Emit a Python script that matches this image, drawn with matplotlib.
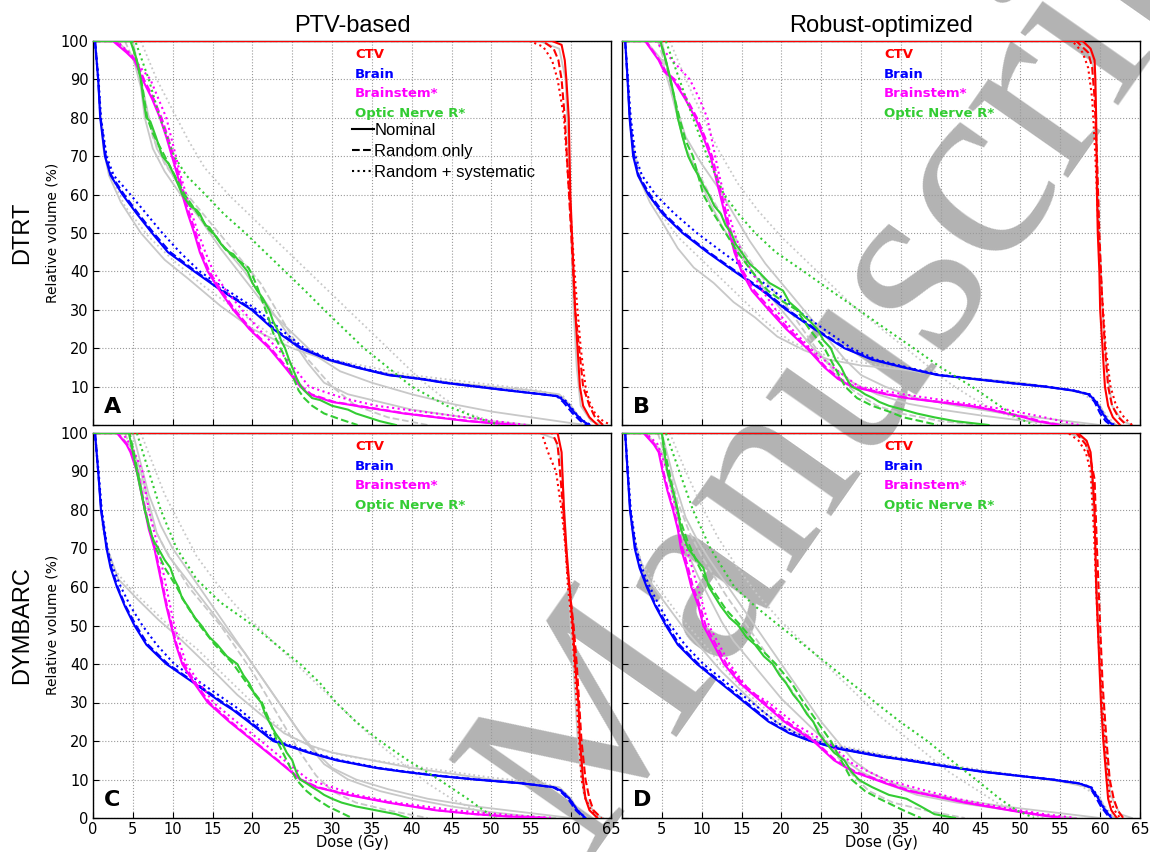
import matplotlib
matplotlib.use('Agg')
import matplotlib.pyplot as plt
from matplotlib.lines import Line2D

plt.rcParams['font.family'] = ['DejaVu Sans']

# ---- panel A : PTV-based, DTRT ----
A_ctv_nom = [(0,100),(57.6,100),(58.8,99),(59.2,95),(59.4,90),(59.7,80),(59.8,70),(59.9,60),(60.1,50),(60.3,40),(60.5,30),(60.8,20),(61.1,10),(61.5,5),(62.3,2),(63.3,0)]
A_ctv_rnd = [(0,100),(56.4,100),(57.8,98),(58.4,95),(58.8,90),(59.2,80),(60,50),(60.5,30),(61,20),(61.5,10),(62.3,5),(63,2),(64,0)]
A_ctv_sys = [(0,100),(54.8,100),(56.5,98.5),(57.6,95),(58.3,90),(59.1,80),(59.6,65),(60.1,50),(60.6,35),(61.2,20),(61.8,10),(62.3,6),(63,3),(64,1),(65,0)]
A_brain_nom = [(0.25,100),(0.65,90),(0.9,80),(1.5,70),(2.2,65),(3.7,60),(5.5,55),(7.4,50),(9.4,45),(12.7,40),(16.1,35),(19.9,30),(22.6,25),(26,20),(29.5,17),(33,15),(37,13),(41,12),(44,11),(48,10),(52,9),(56.3,8),(58.3,7.5),(59.3,6),(60.5,3),(61.5,1),(62.3,0)]
A_brain_rnd = [(0.25,100),(0.65,90),(0.95,80),(1.6,70),(2.3,65),(3.9,60),(5.7,55),(7.6,50),(9.7,45),(12.9,40),(16.3,35),(20.1,30),(22.8,25),(26.2,20),(29.7,17),(33.2,15),(37.2,13),(41.2,12),(44.2,11),(48.2,10),(52.2,9),(56.3,8),(58.2,7.5),(59,6),(60.2,3),(61.2,1),(62,0)]
A_brain_sys = [(0.25,100),(0.7,90),(1,80),(1.7,70),(2.6,65),(4.7,60),(6.7,55),(8.7,50),(10.9,45),(13.4,40),(16.9,35),(20.6,30),(23.5,25),(26.5,20),(30,17),(33.5,15),(37.5,13),(41.5,12),(44.5,11),(48.5,10),(52.5,9),(56.5,8),(58.5,7.5),(59.5,6),(60.6,3),(61.6,1),(62.5,0)]
A_bs_nom = [(0,100),(2.5,100),(4.2,97),(5.2,95),(6.2,90),(7.4,85),(8.4,80),(9.2,75),(9.9,70),(10.6,65),(11.2,60),(11.9,55),(12.7,50),(13.4,45),(14.4,40),(15.9,35),(17.6,30),(19.6,25),(22.1,20),(24.1,15),(26,10),(27.1,8),(30,6),(33,5),(36,4),(39,3),(43,2),(47,1),(50,0.5),(53,0)]
A_bs_rnd = [(0,100),(2.7,100),(4.4,97),(5.4,95),(6.4,90),(7.6,85),(8.6,80),(9.4,75),(10.1,70),(10.8,65),(11.4,60),(12.1,55),(12.9,50),(13.6,45),(14.6,40),(16.1,35),(17.8,30),(19.8,25),(22.3,20),(24.3,15),(26.2,10),(27.4,8),(30.3,6),(33.3,5),(36.3,4),(39.3,3),(43.3,2),(47.5,1),(53,0)]
A_bs_sys = [(0,100),(3,100),(5,96),(6,93),(7.2,90),(8.2,85),(9.2,80),(9.8,75),(10.4,70),(11,65),(11.7,60),(12.4,55),(13.2,50),(14.1,45),(15.1,40),(16.7,35),(18.7,30),(20.8,25),(23.1,20),(25.2,15),(27.1,10),(31.4,7),(35.6,5),(43,3),(50.5,1),(54.4,0)]
A_on_nom = [(0,100),(4.7,100),(5.5,95),(6,90),(6.3,85),(6.7,80),(7.2,79),(7.9,75),(8.7,70),(9.5,68),(10.2,65),(11.2,60),(12.2,57),(13,56),(13.4,55),(14.1,52),(14.6,51.5),(15.1,50),(16.1,47),(17.1,45),(17.6,44.5),(18.6,42),(19.4,40),(20,37),(20.6,35),(21.3,33),(22.1,30),(22.6,27),(23.1,25),(23.6,22),(24.1,20),(24.6,17),(25,15),(25.6,12),(26.1,10),(26.5,9),(27.5,7),(28.5,6.5),(30,5),(32,4),(33,3),(34.5,2),(36,1),(37,0.5),(38,0)]
A_on_rnd = [(0,100),(4.8,100),(5.6,94),(6.2,88),(6.8,80),(7.5,76),(8.5,72),(9.5,68),(10.5,64),(11.5,60),(12.5,57),(13.5,54),(14.5,51),(15.5,49),(16.5,46),(17.5,44),(18.5,42.5),(19.5,41),(20,39),(20.6,36),(21.3,32),(22,28),(22.6,24),(23.3,21),(24,18),(24.6,15),(25.2,12),(25.8,9),(26.5,7),(27.5,5),(29,3),(31,1.5),(33.2,0)]
A_on_sys = [(0,100),(5.3,100),(7,90),(8.4,80),(10.2,70),(11.7,65),(14.1,60),(16.4,55),(19.1,50),(21.6,45),(24.1,40),(26.6,35),(29,30),(31.5,25),(34,20),(37,15),(40,10),(44.4,5),(48,2),(51,0)]
A_gray_brain_a = [(0.3,100),(0.8,85),(1.3,72),(2,65),(3.5,58),(6,50),(9,43),(12,38),(16,31),(20,25),(25,20),(30,16.5),(35,14),(40,12.5),(45,11),(50,10),(55,9),(58.5,8),(60,5),(61,2),(62,0)]
A_gray_brain_b = [(0.3,100),(1,80),(2,66),(4,57),(7,49),(10,43),(14,36),(18,30),(22,24),(26,20),(30,17),(35,15),(40,13),(50,10.5),(56,9),(59,7.5),(60.5,3),(62,0)]
A_gray_oar_a = [(3,100),(5,96),(6,88),(6.5,80),(7.5,72),(9,66),(11,60),(13,55),(15,50),(17,45),(19,40),(21,34),(23,28),(25,22),(27,16),(29,11),(32,8),(36,6),(40,4),(45,2.5),(50,1),(55,0)]
A_gray_oar_b = [(4,100),(5.5,93),(6.5,85),(7.5,75),(9,68),(11,62),(13,57),(15,52),(17,47),(19,42),(21,37),(23,30),(25,23),(27,17),(30,10),(33,5),(37,2),(42,0)]
A_gray_oar_c = [(6,100),(8,90),(10,82),(12,74),(14,67),(17,60),(20,54),(23,48),(26,42),(29,36),(32,30),(35,24),(38,18),(41,12),(44,7),(47,3),(50,1),(53,0)]
A_gray_oar_d = [(5,100),(6,90),(7,80),(8,72),(10,65),(13,55),(16,46),(19,38),(22,30),(25,24),(28,18),(31,14),(35,11),(40,8),(45,5.5),(50,3.5),(55,2),(60,0.5),(62,0)]
A_gray_ctv = [(56,100),(58.5,98),(59.3,90),(59.7,70),(60,50),(60.3,30),(60.7,15),(61.2,5),(62.5,1),(64,0)]

# ---- panel B : Robust-optimized, DTRT ----
B_ctv_nom = [(0,100),(57.8,100),(58.8,98),(59.3,95),(59.4,90),(59.5,80),(59.6,60),(59.7,50),(59.9,40),(60,30),(60.3,20),(60.6,10),(61,5),(61.6,2),(62.5,0)]
B_ctv_rnd = [(0,100),(57,100),(58.5,97),(59,93),(59.3,85),(59.6,70),(59.9,50),(60.2,35),(60.6,20),(61,10),(61.5,5),(62.3,2),(63.3,0)]
B_ctv_sys = [(0,100),(56.5,100),(57.8,97),(58.5,93),(59,85),(59.4,70),(59.8,50),(60.2,35),(60.7,20),(61.3,10),(62,5),(63,2),(64,0)]
B_brain_nom = [(0.4,100),(0.7,90),(0.95,80),(1.4,70),(2,65),(3.3,60),(5.1,55),(7.6,50),(10.7,45),(14.1,40),(17.6,35),(20.6,30),(24.1,25),(27.9,20),(31.4,17),(35.3,15),(39.6,13),(44,12),(48.3,11),(53,10),(56.5,9),(58.6,8),(59.5,6),(60.3,3),(61,1),(61.6,0)]
B_brain_rnd = [(0.4,100),(0.7,90),(1,80),(1.5,70),(2.1,65),(3.5,60),(5.3,55),(7.8,50),(10.9,45),(14.3,40),(17.8,35),(20.8,30),(24.3,25),(28.1,20),(31.6,17),(35.5,15),(39.8,13),(44.2,12),(48.5,11),(53.2,10),(56.6,9),(58.5,8),(59.3,6),(60,3),(60.7,1),(61.3,0)]
B_brain_sys = [(0.4,100),(0.75,90),(1.1,80),(1.7,70),(2.5,65),(4.2,60),(6.6,55),(9.4,50),(12.6,45),(15.9,40),(19,35),(21.9,30),(25.3,25),(28.8,20),(32,17),(35.8,15),(40,13),(44.4,12),(48.7,11),(53.3,10),(56.7,9),(58.7,8),(59.6,6),(60.4,3),(61.1,1),(61.8,0)]
B_bs_nom = [(0,100),(2.9,100),(4.6,95),(5.3,92),(6.4,90),(7.9,85),(9.2,80),(10.2,75),(11.1,70),(11.7,65),(12.3,60),(12.9,55),(13.5,50),(14.1,45),(15,40),(16.3,35),(18.4,30),(20.6,25),(23.2,20),(25.4,15),(27.1,12),(28.8,10),(33.1,8),(35.7,7),(39.6,6),(43.5,5),(46.1,4),(48.3,3),(50.4,2),(52.1,1),(54.7,0)]
B_bs_rnd = [(0,100),(3,100),(4.7,95),(5.5,92),(6.6,90),(8.1,85),(9.4,80),(10.4,75),(11.3,70),(11.9,65),(12.5,60),(13.1,55),(13.7,50),(14.3,45),(15.2,40),(16.6,35),(18.7,30),(20.9,25),(23.4,20),(25.6,15),(27.4,12),(29.2,10),(33.5,8),(36,7),(40,6),(43.8,5),(46.5,4),(48.6,3),(50.8,2),(52.5,1),(55,0)]
B_bs_sys = [(0,100),(4.2,100),(6.3,95),(8.5,90),(9.7,85),(10.7,80),(11.2,75),(11.7,70),(12.2,65),(12.8,60),(13.4,55),(14.1,50),(15,45),(16.3,40),(17.6,35),(19.3,30),(21.3,25),(23.6,20),(26.5,15),(29.7,10),(35.3,8),(41.8,6),(48.3,4),(53,2),(57.3,0)]
B_on_nom = [(0,100),(4.8,100),(5.5,95),(6.1,90),(6.6,85),(7,80),(7.6,75),(8.3,70),(9,67),(9.6,65),(10.3,62),(10.9,60),(11.6,57),(12.4,55),(13,52),(13.7,50),(14.3,47),(15,45),(16,42),(17.1,40),(18.5,37),(20.2,35),(21,32),(22.1,30),(23,28),(23.6,27),(24.5,25),(25.3,22),(26.2,20),(26.8,17),(27.5,15),(28.2,12),(28.8,10),(29.8,9),(30.5,8),(31.5,7),(32.3,6),(33.5,5),(35.3,4),(37,3),(39.2,2),(41.8,1),(46,0)]
B_on_rnd = [(0,100),(4.8,100),(5.6,94),(6.5,86),(7.2,80),(8,74),(8.9,70),(10.2,60),(11.5,55),(13,50),(14.5,45),(16.3,40),(18.3,35),(20.3,32),(21.9,30),(23.5,25),(25.4,20),(26.7,15),(28,10),(29.5,7),(31.4,5),(33.5,3.5),(35.3,2),(37.5,1),(39.6,0)]
B_on_sys = [(0,100),(5.5,100),(7.2,90),(8.9,80),(10.7,70),(12.8,60),(14.6,55),(16.7,50),(19.3,45),(22.8,40),(26.2,35),(29.7,30),(33.1,25),(36.6,20),(40,15),(43.9,10),(47.4,5),(49.5,2),(51.7,0)]
B_gray_brain_a = [(0.4,100),(1,78),(2,65),(3.5,58),(5,53),(7,46),(9,41),(11.5,37),(14,32),(16.7,28),(19.5,23),(22.8,19.5),(26,17),(30,15.5),(35,14.5),(40,13),(50,11),(55,9.5),(58.5,8),(60,5),(61,1),(62,0)]
B_gray_brain_b = [(0.4,100),(1.2,75),(2.5,63),(4.5,56),(7,49),(9.5,44),(12,39),(15,33),(18,27),(21,22),(24,19),(28,17),(34,15),(42,12.5),(50,10.5),(57,9),(59.5,6),(61,2),(62,0)]
B_gray_oar_a = [(3,100),(5,95),(6,88),(7,80),(8,72),(9.5,65),(11,58),(12.5,52),(14,47),(16,41),(18,35),(20,30),(22,25),(24,20),(26.5,15),(29,11),(32,8),(36,5.5),(40,4),(45,2.5),(50,1.2),(55,0.3),(58,0)]
B_gray_oar_b = [(4.5,100),(6,90),(7,80),(8,72),(9.5,66),(11,60),(13,53),(15,46),(17,40),(19,35),(21,30),(23,24),(25,18),(27,13),(29,9),(32,5),(35,3),(40,1),(45,0)]
B_gray_oar_c = [(6,100),(8,90),(10,81),(12,72),(14.5,63),(17,56),(20,49),(23,43),(26,37),(29,31),(32,26),(35,21),(38,16),(41,11),(44,7),(47,3.5),(50,1.5),(53,0)]
B_gray_oar_d = [(5,100),(6.5,85),(8,75),(10,68),(12,62),(14,55),(16,48),(18,42),(20,37),(22,32),(24,27),(26,22),(28,17),(30,13),(33,10),(37,7),(42,5),(48,3),(54,1.5),(58,0.5),(60,0)]
B_gray_ctv = [(56.5,100),(58.5,98),(59.3,92),(59.6,70),(59.9,50),(60.3,30),(60.8,15),(61.5,5),(62.8,1),(64,0)]

# ---- panel C : PTV-based, DYMBARC ----
C_ctv_nom = [(0,100),(58.3,100),(58.8,95),(58.9,90),(59.1,80),(59.4,70),(59.8,60),(60.2,50),(60.5,40),(60.9,30),(61.1,20),(61.5,10),(61.8,5),(62.3,2),(63.3,0)]
C_ctv_rnd = [(0,100),(57.6,100),(58.3,97),(58.6,90),(59,80),(59.5,65),(60.3,50),(60.7,40),(61,30),(61.3,20),(61.8,10),(62.3,5),(62.8,2),(63.8,0)]
C_ctv_sys = [(0,100),(56.3,100),(57.1,95),(58.1,90),(58.8,80),(59.3,70),(59.6,60),(60.1,50),(60.4,40),(60.7,30),(61,20),(61.3,10),(61.8,5),(62.5,2),(63.3,0)]
C_brain_nom = [(0.25,100),(0.65,90),(1,80),(1.7,70),(2.2,65),(3,60),(4,55),(5.2,50),(6.7,45),(9.2,40),(12.7,35),(16.1,30),(17.6,28),(19.5,25),(22.6,20),(27,17),(30.5,15),(35.5,13),(39,12),(43,11),(47.9,10),(53.8,9),(57.8,8),(58.8,7),(59.8,5),(60.8,2),(61.8,0)]
C_brain_rnd = [(0.25,100),(0.65,90),(1.05,80),(1.75,70),(2.3,65),(3.1,60),(4.1,55),(5.4,50),(6.9,45),(9.4,40),(12.9,35),(16.3,30),(17.8,28),(19.7,25),(22.8,20),(27.2,17),(30.7,15),(35.7,13),(39.2,12),(43.2,11),(48,10),(53.9,9),(57.7,8),(58.6,7),(59.6,5),(60.6,2),(61.6,0)]
C_brain_sys = [(0.25,100),(0.7,90),(1.1,80),(1.8,70),(2.5,65),(3.5,60),(4.7,55),(6.2,50),(8,45),(10.2,40),(13.6,35),(17.1,30),(18.5,28),(20.2,25),(23.1,20),(27.5,17),(31,15),(36,13),(39.5,12),(43.5,11),(48.3,10),(54,9),(57.9,8),(58.9,7),(59.8,5),(60.8,2),(61.8,0)]
C_bs_nom = [(0,100),(3,100),(4.2,97),(4.7,95),(5.5,90),(6,85),(6.5,80),(7,75),(7.7,70),(8.2,65),(8.7,60),(9.2,55),(9.8,50),(10.4,45),(11.2,40),(12.7,35),(14.4,30),(17.1,25),(20.1,20),(23.1,15),(26,10),(28,8),(32,6),(37,4),(43,2),(47.9,1),(52,0.4),(56.8,0)]
C_bs_rnd = [(0,100),(3.1,100),(4.3,97),(4.8,95),(5.6,90),(6.1,85),(6.6,80),(7.1,75),(7.8,70),(8.3,65),(8.8,60),(9.3,55),(9.9,50),(10.5,45),(11.4,40),(12.9,35),(14.6,30),(17.3,25),(20.2,20),(23.2,15),(26.1,10),(28.2,8),(32.3,6),(37.3,4),(43.3,2),(48,1),(52.3,0.4),(57,0)]
C_bs_sys = [(0,100),(3.7,100),(5,96),(6.2,90),(7,80),(8.2,70),(9.2,60),(10.2,50),(11.7,40),(15.1,30),(18,25),(21.1,20),(24,15),(27,10),(33,6),(38,4),(45.4,2),(52,0.8),(57.8,0)]
C_on_nom = [(0,100),(4.5,100),(5,95),(5.5,90),(6,85),(6.5,80),(7.1,75),(7.6,72),(8.2,70),(9,67),(9.7,65),(10.2,62),(10.7,60),(11.2,57),(11.9,55),(12.8,52),(13.6,50),(14.6,47),(15.6,45),(16.8,42),(18.1,40),(18.9,37),(19.6,35),(20.3,32),(21.1,30),(21.6,27),(22.1,25),(22.9,22),(23.6,20),(24.3,17),(25,15),(25.5,12),(26,10),(26.8,9),(27.5,8),(28.3,7),(29,6),(30,5),(31.2,4),(33,3),(35.5,2),(38,1),(39.5,0)]
C_on_rnd = [(0,100),(4.6,100),(5.2,94),(5.8,88),(6.5,80),(7.3,74),(7.9,70),(9,65),(10.5,60),(11.8,55),(13.4,50),(15.3,45),(17.6,40),(19.3,35),(21.2,30),(22.2,25),(23.1,20),(24.3,15),(25.5,10),(26.8,7),(28,5),(29.5,3),(30.5,2),(31.5,1),(32.5,0)]
C_on_sys = [(0,100),(5.5,100),(7,90),(8.5,80),(10.5,70),(13,62),(16,56),(20.1,50),(23,45),(26,40),(28.5,35),(30.5,30),(33,25),(36,20),(39.5,15),(43.4,10),(47,5),(49,2),(50.4,0)]
C_gray_brain_a = [(0.3,100),(1,80),(1.8,70),(3.2,62),(5.5,57),(8.2,51.5),(10.7,47),(13.2,42),(15.7,37),(18.1,32),(21,27),(24,22),(27,19),(30,17),(35,15),(40,13),(45,11.5),(50,10),(55,9),(58.5,8),(60,5),(61,1.5),(62,0)]
C_gray_brain_b = [(0.3,100),(1.2,75),(2.5,65),(4.5,60),(7,55),(10,49),(13,44),(16,38),(19,32),(22,26),(25,21),(28,18),(32,16),(40,13.5),(50,10.5),(57,9),(59.5,6),(61,2),(62,0)]
C_gray_oar_a = [(3,100),(5,96),(6,90),(7,82),(8,74),(9.5,68),(11,64),(12.5,60),(14,56),(15.5,52),(17,48),(19,43),(21,37),(23,31),(25,25),(27,19),(29,14),(32,10),(36,7),(40,5),(45,3),(50,1.5),(55,0.4),(58,0)]
C_gray_oar_b = [(4,100),(5.5,92),(6.5,84),(7.5,76),(9,70),(10.5,65),(12,60),(14,55),(16,50),(18,44),(20,38),(22,31),(24,24),(26,17),(28,11),(30,7),(33,4),(37,2),(42,0)]
C_gray_oar_c = [(6,100),(7.5,92),(9,84),(11,76),(13,68),(15.5,61),(18,55),(21,49),(24,43),(27,37),(30,31),(33,25),(36,19),(39,14),(42,9),(45,5),(48,2),(51,0)]
C_gray_oar_d = [(5,100),(6,92),(7,84),(8.5,76),(10,70),(12,64),(14,58),(16,52),(18,46),(20,40),(22,34),(24,28),(26,22),(28,17),(30,13),(33,10),(37,7.5),(42,5),(48,3),(54,1.5),(58,0.5),(60,0)]
C_gray_ctv = [(56,100),(58,98.5),(58.8,92),(59.3,75),(59.8,55),(60.4,35),(60.9,18),(61.6,6),(63,1),(64,0)]

# ---- panel D : Robust-optimized, DYMBARC ----
D_ctv_nom = [(0,100),(57.2,100),(58.3,98),(58.8,95),(59,90),(59.3,80),(59.5,60),(59.7,50),(59.9,40),(60.1,30),(60.4,20),(60.8,10),(61,5),(61.4,2),(62.1,0)]
D_ctv_rnd = [(0,100),(57,100),(58.2,97),(58.8,93),(59.3,88),(59.6,70),(60,50),(60.3,35),(60.8,20),(61.2,10),(61.7,5),(62.2,2),(62.9,0)]
D_ctv_sys = [(0,100),(56,100),(57.3,98),(58.2,95),(58.8,90),(59.2,75),(59.7,50),(60.1,35),(60.6,20),(61,10),(61.2,5),(61.8,2),(62.5,0)]
D_brain_nom = [(0.4,100),(0.7,90),(1,80),(1.6,70),(2.2,65),(3.1,60),(4.2,55),(5.5,50),(7,45),(9.4,40),(12.4,35),(15.4,30),(18.4,25),(21,22),(23.6,20),(27.1,18),(32.3,16),(35.7,15),(41.8,13),(45.2,12),(49.5,11),(53.9,10),(57.3,9),(58.8,8),(59.5,6),(60.3,3),(61.4,0)]
D_brain_rnd = [(0.4,100),(0.7,90),(1.05,80),(1.7,70),(2.3,65),(3.2,60),(4.3,55),(5.7,50),(7.2,45),(9.6,40),(12.6,35),(15.6,30),(18.6,25),(21.2,22),(23.8,20),(27.3,18),(32.5,16),(35.9,15),(42,13),(45.4,12),(49.6,11),(54,10),(57.3,9),(58.7,8),(59.3,6),(60.1,3),(61.2,0)]
D_brain_sys = [(0.4,100),(0.75,90),(1.1,80),(1.8,70),(2.5,65),(3.5,60),(4.7,55),(6.1,50),(7.9,45),(10.2,40),(13.2,35),(16.3,30),(19.3,25),(21.8,22),(24.5,20),(28,18),(33,16),(36.6,15),(42.3,13),(45.6,12),(49.8,11),(54.1,10),(57.4,9),(58.9,8),(59.6,6),(60.4,3),(61.5,0)]
D_bs_nom = [(0,100),(2.7,100),(4,97),(4.6,95),(5.1,90),(5.7,85),(6.4,80),(7,75),(7.4,70),(8.1,65),(8.7,60),(9.6,55),(10.2,50),(11.5,45),(12.8,40),(14.8,35),(17.6,30),(20.4,25),(24,20),(26.6,15),(29,12),(33.1,9),(36,7),(39.6,5.5),(43,4),(46.1,2.9),(50,1.5),(52.6,0.7),(55,0)]
D_bs_rnd = [(0,100),(2.8,100),(4.1,97),(4.7,95),(5.2,90),(5.8,85),(6.5,80),(7.1,75),(7.6,70),(8.3,65),(8.9,60),(9.8,55),(10.5,50),(11.8,45),(13.1,40),(15.1,35),(17.9,30),(20.7,25),(24.2,20),(26.8,15),(29.3,12),(33.4,9),(36.3,7),(39.9,5.5),(43.3,4),(46.4,2.9),(50.3,1.5),(53,0.7),(55.3,0)]
D_bs_sys = [(0,100),(3,100),(4.5,97),(5.7,90),(6.8,80),(8.1,70),(9.5,60),(10.9,50),(13.5,40),(16,33),(18.4,30),(22,24),(26.2,19),(29,14),(33,10),(37.4,7.5),(42,5),(48.3,2.5),(53,1),(56.9,0)]
D_on_nom = [(0,100),(5,100),(5.3,95),(5.7,90),(6.4,85),(7,80),(7.4,75),(8.3,70),(9.4,67),(10.2,65),(10.9,60),(11.5,58),(12.4,55),(13.5,52),(14.6,50),(15.6,47),(16.7,45),(17.8,42),(18.9,40),(19.8,37),(20.6,35),(21.5,32),(22.3,30),(23.2,27),(24,25),(24.7,22),(25.4,20),(26.6,17),(27.9,15),(28.8,12),(29.7,10),(30.5,9),(31.4,8),(33.5,6),(35.7,5),(37.5,3),(39.2,1),(41.8,0)]
D_on_rnd = [(0,100),(5,100),(5.5,94),(6.3,86),(7.2,78),(8.2,72),(9.5,66),(10.5,62),(11.8,58),(13.1,54),(14.9,50),(16.9,45),(19.3,40),(21.3,35),(22.8,30),(24.5,25),(26.2,20),(27.5,15),(28.8,10),(30.5,7),(32.3,5),(35.3,2),(37.5,0)]
D_on_sys = [(0,100),(5.5,100),(7.2,90),(8.9,80),(11.1,70),(14.1,60),(16.7,55),(19.7,50),(22.8,45),(25.8,40),(28.8,35),(31.8,30),(34.9,25),(38.3,20),(41.3,15),(44.4,10),(47.4,5),(49.5,2),(51.7,0)]
D_gray_brain_a = [(0.4,100),(1,80),(1.8,70),(3,63),(5,57),(7.5,50),(10,44),(12.5,38),(15,33),(17.5,28),(20,24),(23,21),(27,18.5),(32,16.5),(36,15),(42,13),(50,11),(55,9.5),(58.5,8),(60,5),(61,1),(62,0)]
D_gray_brain_b = [(0.4,100),(1.2,75),(2.5,66),(4.5,60),(7,53),(9.5,47),(12,41),(14.5,35),(17,30),(20,25),(24,21),(28,18.5),(34,16),(42,13.5),(50,11),(57,9),(59.5,6),(61,2),(62,0)]
D_gray_oar_a = [(3,100),(5,95),(6,87),(7,78),(8,70),(9.5,63),(11,57),(12.5,51),(14,46),(16,41),(18,36),(20,31),(22,27),(24,23),(26,19),(28,15),(30,12),(33,9),(37,6),(42,4),(47,2.5),(52,1),(57,0)]
D_gray_oar_b = [(4.5,100),(6,90),(7,82),(8.5,74),(10,68),(11.5,63),(13,58),(15,52),(17,46),(19,40),(21,34),(23,28),(25,22),(27,16),(29,11),(31,7),(34,4),(38,2),(43,0)]
D_gray_oar_c = [(6,100),(8,90),(10,81),(12,73),(14.5,65),(17,58),(20,51),(23,45),(26,39),(29,33),(32,27),(35,22),(38,17),(41,12),(44,8),(47,4),(50,1.5),(53,0)]
D_gray_oar_d = [(5,100),(6.5,88),(8,78),(9.5,72),(11,67),(13,61),(15,55),(17,49),(19,43),(21,37),(23,31),(25,25),(27,20),(29,15),(31,12),(34,9),(38,6.5),(43,4.5),(48,3),(54,1.5),(58,0.5),(60,0)]
D_gray_ctv = [(56,100),(58,98.5),(58.8,93),(59.3,75),(59.7,55),(60.1,35),(60.6,18),(61.3,6),(62.5,1),(64,0)]

structures = ['CTV', 'Brain', 'Brainstem*', 'Optic Nerve R*']
colors = ['#ff0000', '#0000ff', '#ff00ff', '#33cc33']
styles = ['-', '--', ':']
style_labels = ['Nominal', 'Random only', 'Random + systematic']
col_titles = ['PTV-based', 'Robust-optimized']
row_titles = ['DTRT', 'DYMBARC']
panel_letters = ['A', 'B', 'C', 'D']
GRAY = '#c8c8c8'

panels = {
    'A': ([A_ctv_nom, A_ctv_rnd, A_ctv_sys], [A_brain_nom, A_brain_rnd, A_brain_sys],
          [A_bs_nom, A_bs_rnd, A_bs_sys], [A_on_nom, A_on_rnd, A_on_sys],
          [A_gray_brain_a, A_gray_brain_b, A_gray_oar_a, A_gray_oar_b, A_gray_oar_c, A_gray_oar_d, A_gray_ctv]),
    'B': ([B_ctv_nom, B_ctv_rnd, B_ctv_sys], [B_brain_nom, B_brain_rnd, B_brain_sys],
          [B_bs_nom, B_bs_rnd, B_bs_sys], [B_on_nom, B_on_rnd, B_on_sys],
          [B_gray_brain_a, B_gray_brain_b, B_gray_oar_a, B_gray_oar_b, B_gray_oar_c, B_gray_oar_d, B_gray_ctv]),
    'C': ([C_ctv_nom, C_ctv_rnd, C_ctv_sys], [C_brain_nom, C_brain_rnd, C_brain_sys],
          [C_bs_nom, C_bs_rnd, C_bs_sys], [C_on_nom, C_on_rnd, C_on_sys],
          [C_gray_brain_a, C_gray_brain_b, C_gray_oar_a, C_gray_oar_b, C_gray_oar_c, C_gray_oar_d, C_gray_ctv]),
    'D': ([D_ctv_nom, D_ctv_rnd, D_ctv_sys], [D_brain_nom, D_brain_rnd, D_brain_sys],
          [D_bs_nom, D_bs_rnd, D_bs_sys], [D_on_nom, D_on_rnd, D_on_sys],
          [D_gray_brain_a, D_gray_brain_b, D_gray_oar_a, D_gray_oar_b, D_gray_oar_c, D_gray_oar_d, D_gray_ctv]),
}
gray_styles = ['-', ':', '-', '--', ':', '-', '-']


def draw(ax, pts, color, ls, lw=1.5, z=3):
    d, v = zip(*pts)
    ax.plot(d, v, color=color, ls=ls, lw=lw, zorder=z)


fig = plt.figure(figsize=(11.5, 8.52), dpi=100)
W, H = 1150.0, 852.0
boxes = {'A': (93, 41, 611, 425), 'B': (622, 41, 1140, 425),
         'C': (93, 433, 611, 818), 'D': (622, 433, 1140, 818)}

for i, key in enumerate(panel_letters):
    x0, y0, x1, y1 = boxes[key]
    ax = fig.add_axes([x0 / W, 1 - y1 / H, (x1 - x0) / W, (y1 - y0) / H])
    ax.patch.set_alpha(0)
    data = panels[key]
    for pts, ls in zip(data[4], gray_styles):
        draw(ax, pts, GRAY, ls, lw=1.3, z=2)
    for s in range(4):
        for pts, ls in zip(data[s], styles):
            draw(ax, pts, colors[s], ls)
    ax.set_xlim(0, 65)
    ax.set_ylim(0, 100)
    ax.set_xticks(range(0, 66, 5))
    ax.set_yticks(range(0, 101, 10))
    ax.grid(True, ls=':', color='#9a9a9a', lw=0.8)
    ax.set_axisbelow(True)
    ax.tick_params(direction='in', length=4, labelsize=10.5, pad=3)
    for sp in ax.spines.values():
        sp.set_linewidth(1.0)
    row, col = i // 2, i % 2
    if row == 0:
        ax.tick_params(labelbottom=False)
    else:
        ax.set_xticklabels(['' if (col == 1 and t == 0) else str(t) for t in range(0, 66, 5)])
    if col == 1:
        ax.tick_params(labelleft=False)
    else:
        ax.set_yticklabels(['' if (row == 0 and t == 0) else str(t) for t in range(0, 101, 10)])
    # coloured structure labels
    for s, (name, c) in enumerate(zip(structures, colors)):
        ax.text(0.506, 0.964 - s * 0.0505, name, color=c, fontsize=9.5, weight='bold',
                va='center', ha='left', transform=ax.transAxes)
    if key == 'A':
        handles = [Line2D([], [], color='k', ls=ls, lw=1.5) for ls in styles]
        ax.legend(handles, style_labels, loc='upper left', bbox_to_anchor=(0.5, 0.786),
                  frameon=False, handlelength=1.3, handletextpad=0.05, labelspacing=0.36,
                  borderpad=0, borderaxespad=0,
                  prop={'family': 'Liberation Sans', 'size': 12})
    ax.text(0.021, 0.022, key, transform=ax.transAxes, fontsize=16, weight='bold',
            ha='left', va='bottom')

# column / row titles and axis labels
fig.text(352 / W, 1 - 26 / H, col_titles[0], ha='center', va='center', fontsize=17, family='Liberation Sans')
fig.text(881 / W, 1 - 26 / H, col_titles[1], ha='center', va='center', fontsize=17, family='Liberation Sans')
fig.text(22 / W, 1 - 233 / H, row_titles[0], ha='center', va='center', rotation=90, fontsize=17, family='Liberation Sans')
fig.text(22 / W, 1 - 625 / H, row_titles[1], ha='center', va='center', rotation=90, fontsize=17, family='Liberation Sans')
fig.text(53 / W, 1 - 233 / H, 'Relative volume (%)', ha='center', va='center', rotation=90, fontsize=10)
fig.text(53 / W, 1 - 625 / H, 'Relative volume (%)', ha='center', va='center', rotation=90, fontsize=10)
fig.text(352 / W, 1 - 843 / H, 'Dose (Gy)', ha='center', va='center', fontsize=10.5)
fig.text(881 / W, 1 - 843 / H, 'Dose (Gy)', ha='center', va='center', fontsize=10.5)

# watermark of the source page
fig.text(0.762, 0.612, 'Manuscript', rotation=55, rotation_mode='anchor', ha='center', va='center',
         fontsize=190, family='Liberation Serif', color='#b3b3b3', zorder=-1)

fig.savefig('out.png', dpi=100)
